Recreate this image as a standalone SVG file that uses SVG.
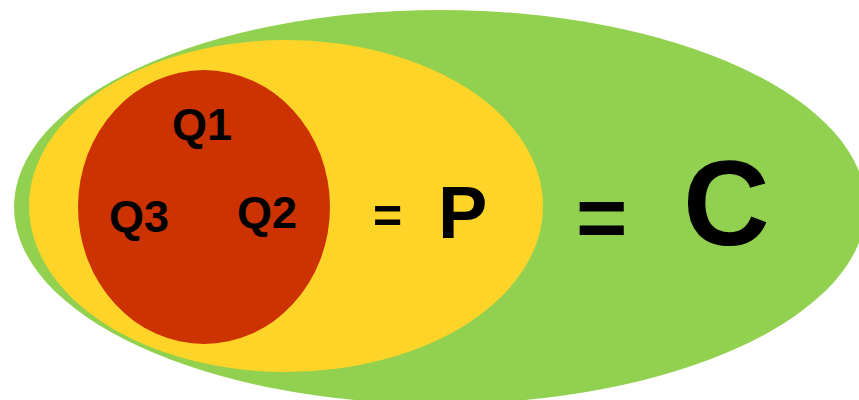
<svg xmlns="http://www.w3.org/2000/svg" width="859" height="400" viewBox="0 0 859 400">
  <style>
    .lbl { font-family: "Liberation Sans", Arial, sans-serif; font-weight: bold; fill: #000000; }
  </style>
  <rect width="859" height="400" fill="#ffffff"/>
  <g id="set-C">
    <ellipse cx="440" cy="207" rx="426" ry="197" fill="#92D050"/>
  </g>
  <g id="set-P">
    <ellipse cx="286" cy="206" rx="257" ry="166" fill="#FDD427"/>
  </g>
  <g id="set-Q">
    <ellipse cx="204" cy="207" rx="126" ry="137" fill="#CC3300"/>
  </g>
  <g id="labels">
    <text class="lbl" x="172" y="140" font-size="45">Q1</text>
    <text class="lbl" x="109" y="232" font-size="45">Q3</text>
    <text class="lbl" x="237" y="228" font-size="45">Q2</text>
    <text class="lbl" x="373" y="233" font-size="50">=</text>
    <text class="lbl" x="438" y="238" font-size="74">P</text>
    <text class="lbl" x="576" y="247" font-size="88">=</text>
    <text class="lbl" x="683" y="245" font-size="120">C</text>
  </g>
</svg>
